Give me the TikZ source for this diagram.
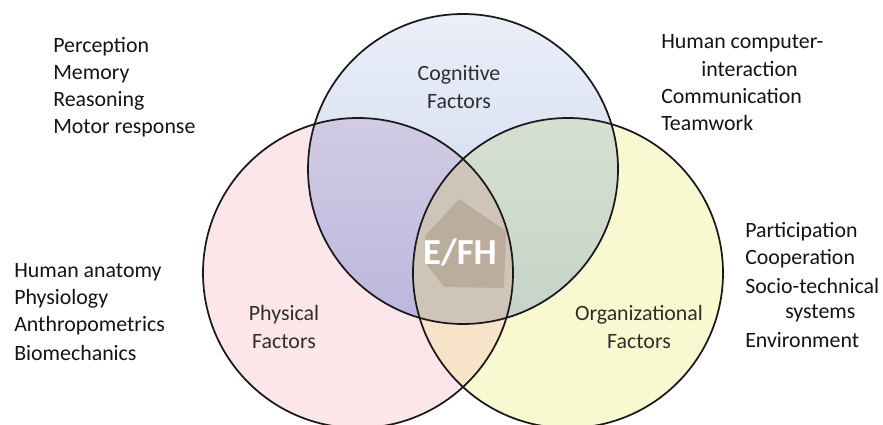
\documentclass[tikz,border=0pt]{standalone}
\usepackage{fontspec}
\setmainfont{Carlito}
\definecolor{cogtop}{RGB}{234,239,249}
\definecolor{cogbot}{RGB}{200,210,234}
\definecolor{phyfill}{RGB}{252,230,234}
\definecolor{orgfill}{RGB}{248,249,208}
\definecolor{cptop}{RGB}{210,203,228}
\definecolor{cpbot}{RGB}{176,173,218}
\definecolor{cotop}{RGB}{214,224,208}
\definecolor{cobot}{RGB}{188,206,196}
\definecolor{pofill}{RGB}{246,227,200}
\definecolor{allfill}{RGB}{206,196,184}
\definecolor{corefill}{RGB}{186,173,155}
\begin{document}
\begin{tikzpicture}[x=0.75pt,y=-0.75pt,
  listtext/.style={anchor=west,inner sep=0pt,font=\fontsize{16.4}{20}\selectfont,text=black!92},
  circlelabel/.style={align=center,inner sep=0pt,font=\fontsize{16.4}{20.3}\selectfont,text=black!82},
  outline/.style={line width=1.3pt,draw=black!90}]
\useasboundingbox (0,0) rectangle (883,425);

% circle geometry
\coordinate (cc) at (463,169);
\coordinate (pc) at (358,273);
\coordinate (oc) at (568,273);
\def\rad{155}

% single-circle fills
\fill[top color=cogtop,bottom color=cogbot] (cc) circle (\rad);
\fill[phyfill] (pc) circle (\rad);
\fill[orgfill] (oc) circle (\rad);

% pairwise overlaps
\begin{scope}
  \clip (cc) circle (\rad);
  \fill[top color=cptop,bottom color=cpbot] (pc) circle (\rad);
\end{scope}
\begin{scope}
  \clip (cc) circle (\rad);
  \fill[top color=cotop,bottom color=cobot] (oc) circle (\rad);
\end{scope}
\begin{scope}
  \clip (pc) circle (\rad);
  \fill[pofill] (oc) circle (\rad);
\end{scope}
% triple overlap
\begin{scope}
  \clip (cc) circle (\rad);
  \clip (pc) circle (\rad);
  \fill[allfill] (oc) circle (\rad);
\end{scope}

% core polygon
\fill[corefill] (459,199) -- (506,231) -- (504,288) -- (444,287) -- (427,265) -- (425,236) -- cycle;

% outlines
\draw[outline] (cc) circle (\rad);
\draw[outline] (pc) circle (\rad);
\draw[outline] (oc) circle (\rad);

% circle labels
\node[circlelabel] (cog) at (459,87) {Cognitive\\Factors};
\node[circlelabel] (phy) at (284,327) {Physical\\Factors};
\node[circlelabel] (org) at (639,327) {Organizational\\Factors};
\node[inner sep=0pt,text=white,font=\fontsize{27.5}{27.5}\bfseries\selectfont] (efh) at (460,252) {E/FH};

% cognitive topics
\node[listtext] (t1) at (53,47) {Perception};
\node[listtext] (t2) at (53,74) {Memory};
\node[listtext] (t3) at (53,101) {Reasoning};
\node[listtext] (t4) at (53,128) {Motor response};

% organizational-cognitive topics
\node[listtext] (u1) at (661,43) {Human computer-};
\node[listtext] (u2) at (701,69) {interaction};
\node[listtext] (u3) at (661,96) {Communication};
\node[listtext] (u4) at (661,123) {Teamwork};

% physical topics
\node[listtext] (v1) at (14,272) {Human anatomy};
\node[listtext] (v2) at (14,299) {Physiology};
\node[listtext] (v3) at (14,326) {Anthropometrics};
\node[listtext] (v4) at (14,353) {Biomechanics};

% organizational topics
\node[listtext] (w1) at (745,232) {Participation};
\node[listtext] (w2) at (745,259) {Cooperation};
\node[listtext] (w3) at (745,286) {Socio-technical};
\node[listtext] (w4) at (785,313) {systems};
\node[listtext] (w5) at (745,340) {Environment};
\end{tikzpicture}
\end{document}
